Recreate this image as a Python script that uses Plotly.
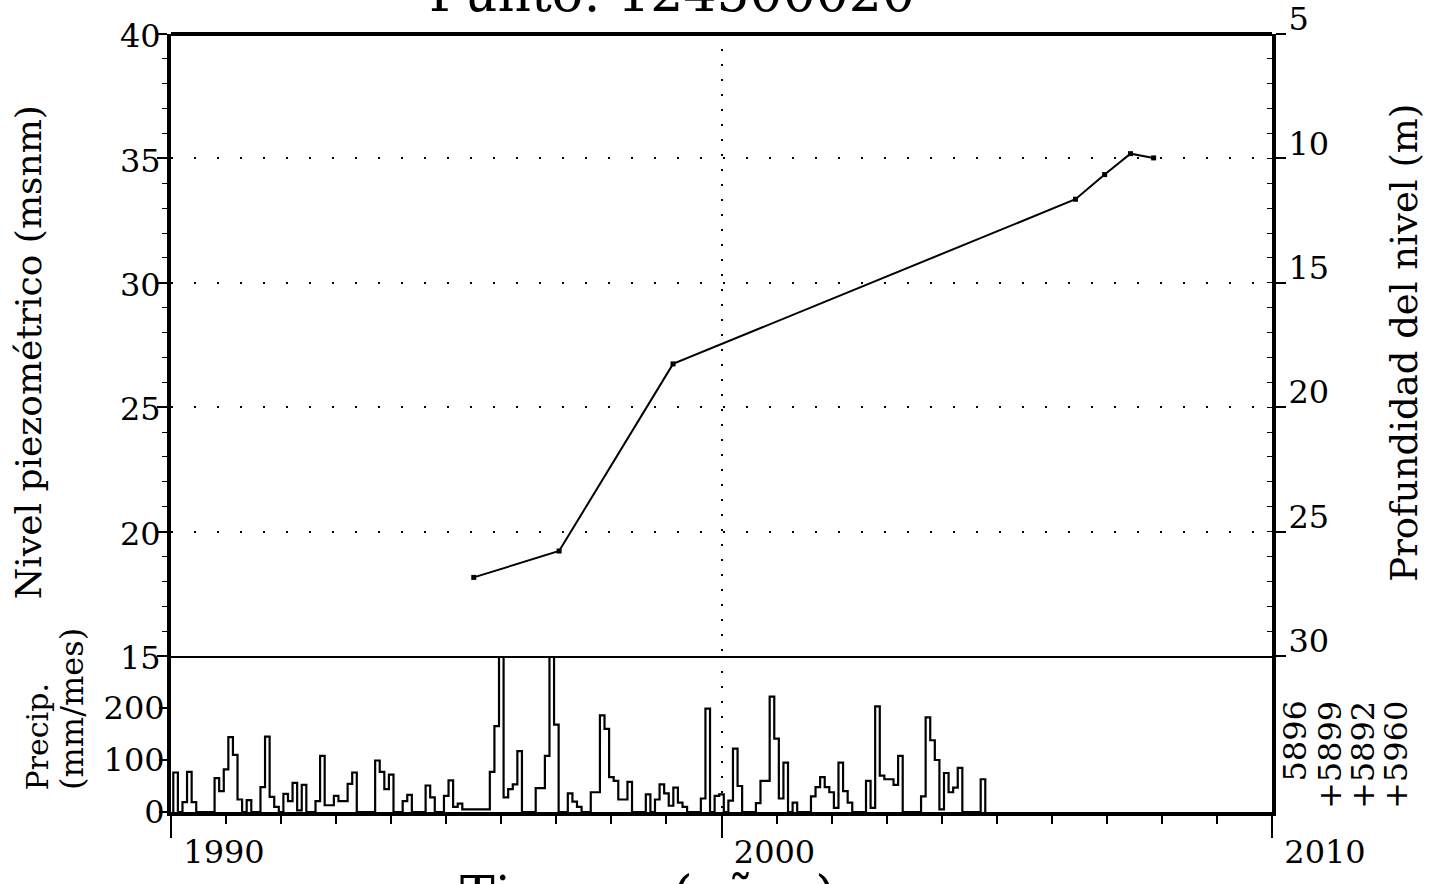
import numpy as np
import plotly.graph_objects as go

FONT = "DejaVu Serif"

# Piezometric level (m a.s.l.) at survey dates, decimal years
level_dates = [1995.50, 1997.05, 1999.12, 2006.43, 2006.96, 2007.43, 2007.85]
level_msnm = [18.16, 19.22, 26.74, 33.36, 34.35, 35.19, 35.02]

# Ground elevation used for the depth scale: depth = GROUND_ELEV - level
GROUND_ELEV = 45

# Monthly precipitation (mm/mes) from January 1990
precip_start = 1990
precip_mm = [
    76, 0, 19, 77, 19, 0, 0, 0, 0, 65, 40, 82,          # 1990
    144, 110, 24, 0, 23, 0, 0, 48, 145, 29, 10, 0,      # 1991
    35, 21, 56, 3, 52, 0, 0, 21, 108, 13, 13, 31,       # 1992
    21, 21, 54, 76, 0, 0, 0, 0, 99, 77, 44, 72,         # 1993
    0, 0, 21, 33, 0, 0, 0, 51, 28, 0, 0, 31,            # 1994
    61, 10, 16, 5, 5, 5, 5, 5, 5, 77, 165, 380,         # 1995
    28, 44, 53, 117, 0, 0, 0, 46, 46, 108, 340, 168,    # 1996
    0, 0, 36, 20, 10, 0, 0, 38, 38, 186, 160, 67,       # 1997
    60, 24, 24, 58, 0, 0, 0, 34, 0, 24, 53, 36,         # 1998
    12, 47, 18, 10, 0, 0, 0, 26, 199, 0, 31, 34,        # 1999
    0, 22, 122, 50, 0, 0, 0, 17, 60, 60, 222, 141,      # 2000
    26, 95, 0, 18, 0, 0, 0, 30, 48, 67, 48, 38,         # 2001
    8, 95, 40, 18, 0, 0, 0, 60, 8, 203, 70, 63,         # 2002
    63, 52, 108, 0, 0, 0, 0, 30, 182, 138, 100, 5,      # 2003
    75, 38, 47, 85, 0, 0, 0, 0, 63,                     # 2004
]

station_codes = ["5896", "+5899", "+5892", "+5960"]

x_range = [1990, 2010]
level_range = [15, 40]
precip_range = [0, 300]
precip_ticks = [0, 100, 200]
year_labels = [1990, 2000, 2010]

# Step outline of the monthly totals (mid-month points, closed to zero at both ends)
mid = precip_start + (np.arange(len(precip_mm)) + 0.5) / 12.0
step_x = np.concatenate([[mid[0]], mid, [mid[-1] + 1 / 12.0]])
step_y = np.concatenate([[0], precip_mm, [0]])

# depth below ground of each level reading (drives the right-hand scale)
depth_m = [GROUND_ELEV - v for v in level_msnm]

SPLIT = 0.2005  # fraction of the plot height given to the precipitation panel

fig = go.Figure()

fig.add_trace(go.Scatter(
    x=step_x, y=step_y, mode="lines",
    line=dict(shape="hv", color="black", width=2.2),
    xaxis="x", yaxis="y3", hoverinfo="skip", showlegend=False,
))

fig.add_trace(go.Scatter(
    x=level_dates, y=level_msnm, mode="lines+markers",
    line=dict(color="black", width=2),
    marker=dict(symbol="square", size=5, color="black"),
    xaxis="x2", yaxis="y", showlegend=False,
))

# same readings expressed as depth; invisible, it only carries the depth axis
fig.add_trace(go.Scatter(
    x=level_dates, y=depth_m, mode="lines", line=dict(width=0), opacity=0,
    xaxis="x2", yaxis="y2", hoverinfo="skip", showlegend=False,
))

tick_font = dict(family=FONT, size=32, color="black")

fig.update_layout(
    template="none",
    width=1432, height=884,
    margin=dict(l=171, r=160, t=34, b=72, autoexpand=False),
    paper_bgcolor="white", plot_bgcolor="white",
    showlegend=False,
    xaxis=dict(
        domain=[0, 1], anchor="y3", range=x_range, automargin=False,
        tickvals=year_labels, ticks="outside", ticklen=22, tickwidth=2, tickcolor="black",
        showline=True, linewidth=4, linecolor="black",
        showgrid=True, gridcolor="black", gridwidth=2, griddash="2px,13px",
        minor=dict(dtick=1, tick0=1990, ticks="outside", ticklen=8, tickwidth=2,
                   tickcolor="black", showgrid=False),
        tickfont=tick_font, ticklabelshift=53, ticklabelstandoff=-13, zeroline=False,
    ),
    xaxis2=dict(
        domain=[0, 1], anchor="y", matches="x", range=x_range, automargin=False,
        tickvals=year_labels, showticklabels=False, ticks="",
        showline=True, linewidth=2, linecolor="black",
        showgrid=True, gridcolor="black", gridwidth=2, griddash="2px,13px",
        zeroline=False,
    ),
    yaxis=dict(
        domain=[SPLIT, 1], anchor="x2", range=level_range, automargin=False,
        tick0=15, dtick=5, ticks="outside", ticklen=10, tickwidth=2, tickcolor="black",
        minor=dict(dtick=1, ticks="outside", ticklen=5, tickwidth=1, tickcolor="black",
                   showgrid=False),
        showline=True, linewidth=4, linecolor="black",
        showgrid=True, gridcolor="black", gridwidth=2, griddash="2px,21px",
        tickfont=tick_font, ticklabelshift=2, ticklabelstandoff=-10, zeroline=False,
    ),
    yaxis2=dict(
        overlaying="y", side="right", anchor="x2", automargin=False,
        range=[GROUND_ELEV - level_range[0], GROUND_ELEV - level_range[1]],
        tick0=5, dtick=5, ticks="outside", ticklen=10, tickwidth=2, tickcolor="black",
        minor=dict(dtick=1, ticks="inside", ticklen=5, tickwidth=1, tickcolor="black",
                   showgrid=False),
        showline=True, linewidth=4, linecolor="black", showgrid=False,
        tickfont=tick_font, ticklabelshift=15, ticklabelstandoff=-4, zeroline=False,
    ),
    yaxis3=dict(
        domain=[0, SPLIT], anchor="x", range=precip_range, automargin=False,
        tickvals=precip_ticks, ticks="outside", ticklen=8, tickwidth=2, tickcolor="black",
        showline=True, linewidth=4, linecolor="black", mirror=True,
        showgrid=False, tickfont=tick_font, ticklabelshift=0, ticklabelstandoff=-12,
        zeroline=False,
    ),
)

# heavy top border of the level panel
fig.add_shape(type="line", xref="paper", yref="paper", x0=0, x1=1, y0=1, y1=1,
              line=dict(color="black", width=4))

ann = []
ann.append(dict(text="Punto: 124500020", xref="paper", yref="paper", x=0.455, y=1.0118,
                xanchor="center", yanchor="bottom", showarrow=False,
                font=dict(family=FONT, size=52, color="black")))
ann.append(dict(text="Tiempo (años)", xref="paper", yref="paper", x=0.433, y=-0.066,
                xanchor="center", yanchor="top", showarrow=False,
                font=dict(family=FONT, size=52, color="black")))
ann.append(dict(text="Nivel piezométrico (msnm)", xref="paper", yref="paper",
                x=-0.1299, y=0.591, xanchor="center", yanchor="middle", textangle=-90,
                showarrow=False, font=dict(family=FONT, size=36, color="black")))
ann.append(dict(text="Profundidad del nivel (m)", xref="paper", yref="paper",
                x=1.1207, y=0.603, xanchor="center", yanchor="middle", textangle=-90,
                showarrow=False, font=dict(family=FONT, size=37, color="black")))
ann.append(dict(text="Precip.", xref="paper", yref="paper", x=-0.1208, y=0.0257,
                xanchor="center", yanchor="bottom", textangle=-90, showarrow=False,
                font=dict(family=FONT, size=30, color="black")))
ann.append(dict(text="(mm/mes)", xref="paper", yref="paper", x=-0.0899, y=0.0257,
                xanchor="center", yanchor="bottom", textangle=-90, showarrow=False,
                font=dict(family=FONT, size=32, color="black")))
code_x = [1.0209, 1.0527, 1.0827, 1.1126]
for cx, code in zip(code_x, station_codes):
    ann.append(dict(text=code, xref="paper", yref="paper", x=cx, y=0.1452,
                    xanchor="center", yanchor="top", textangle=-90, showarrow=False,
                    font=dict(family=FONT, size=32, color="black")))
fig.update_layout(annotations=ann)

fig.write_html("out.html")
